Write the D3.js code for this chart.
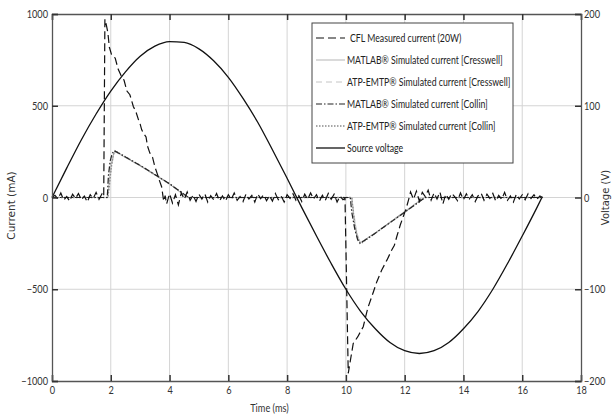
<!DOCTYPE html>
<html>
<head>
<meta charset="utf-8">
<script src="https://cdn.jsdelivr.net/npm/d3@7"></script>
<style>
  body { margin: 0; background: #fff; }
  svg { display: block; }
  .tick text { font-family: Lato, sans-serif; font-size: 11.5px; fill: #333; }
</style>
</head>
<body>
<div id="chart"></div>
<script>
// time axis ticks (ms) and current / voltage ticks
const timeTicks = [0, 2, 4, 6, 8, 10, 12, 14, 16, 18];
const currentTicks = [-1000, -500, 0, 500, 1000];
const voltageTicks = [-200, -100, 0, 100, 200];

// source voltage (V)
const voltT = [0, 0.5, 1, 1.5, 2, 2.5, 3, 3.5, 4, 4.5, 5, 5.5, 6, 6.5, 7, 7.5, 8, 8.5, 9, 9.5, 10, 10.5, 11, 11.5, 12, 12.5, 13, 13.5, 14, 14.5, 15, 15.5, 16, 16.5, 16.67];
const voltV = [0, 32, 63, 91, 116, 137, 154, 165, 170, 169, 162, 149, 131, 108, 82, 52, 21, -11, -42, -72, -100, -124, -143, -158, -167, -170, -167, -158, -143, -124, -100, -72, -42, -11, 0];

// CFL measured current (mA)
const measT = [0, 0.1, 0.2, 0.3, 0.4, 0.5, 0.6, 0.7, 0.8, 0.9, 1.0, 1.1, 1.2, 1.3, 1.4, 1.5, 1.6, 1.7, 1.76,
  1.8, 1.85, 1.9, 1.95, 2.03, 2.15, 2.25, 2.37, 2.45, 2.55, 2.65, 2.77, 2.85, 2.95, 3.0, 3.05, 3.11, 3.2, 3.25, 3.33, 3.42, 3.5, 3.58, 3.65, 3.73,
  3.8, 3.85, 3.9, 4.0, 4.1, 4.2, 4.3, 4.4, 4.5, 4.6, 4.7, 4.8, 4.9, 5.0, 5.1, 5.2, 5.3, 5.4, 5.5, 5.6, 5.7, 5.8, 5.9, 6.0,
  6.1, 6.2, 6.3, 6.4, 6.5, 6.6, 6.7, 6.8, 6.9, 7.0, 7.1, 7.2, 7.3, 7.4, 7.5, 7.6, 7.7, 7.8, 7.9, 8.0, 8.1, 8.2, 8.3, 8.4,
  8.5, 8.6, 8.7, 8.8, 8.9, 9.0, 9.1, 9.2, 9.3, 9.4, 9.5, 9.6, 9.7, 9.8, 9.9, 9.97,
  10.08, 10.25, 10.4, 10.59, 10.75, 10.88, 11.05, 11.22, 11.4, 11.56, 11.65, 11.73, 11.85, 11.95, 12.05, 12.13,
  12.2, 12.3, 12.4, 12.5, 12.6, 12.7, 12.8, 12.9, 13.0, 13.1, 13.2, 13.3, 13.4, 13.5, 13.6, 13.7, 13.8, 13.9, 14.0,
  14.1, 14.2, 14.3, 14.4, 14.5, 14.6, 14.7, 14.8, 14.9, 15.0, 15.1, 15.2, 15.3, 15.4, 15.5, 15.6, 15.7, 15.8, 15.9, 16.0,
  16.1, 16.2, 16.3, 16.4, 16.5, 16.6, 16.7];
const measI = [0, 12, -8, 25, -15, 5, -20, 18, -5, 22, -12, 8, -25, 15, -6, 28, -10, 20, 5,
  971, 940, 900, 820, 776, 760, 700, 658, 640, 580, 560, 495, 470, 420, 400, 370, 351, 330, 280, 242, 220, 168, 130, 95, 59,
  -20, 10, -35, 20, -30, 15, -40, 25, -10, 30, -15, 12, -22, 18, -8, 20, -25, 10, -12, 22, -18, 8, -20, 15,
  -10, 25, -15, 5, -22, 18, -8, 12, -25, 20, -6, 15, -18, 10, -20, 22, -12, 8, -25, 15, -5, 20, -15, 10,
  -22, 18, -10, 25, -8, 15, -20, 12, -15, 22, -10, 18, -25, 8, -12, -5,
  -958, -795, -760, -704, -600, -541, -460, -395, -340, -286, -260, -214, -150, -105, -60, -14,
  30, -10, 35, -20, 28, 5, 40, -15, 25, -8, 30, -35, 18, -10, 22, 5, -18, 25, -12,
  20, -8, 15, -22, 10, 25, -15, 18, -5, 22, -20, 12, -10, 28, -15, 8, -25, 18, -8, 15,
  -12, 20, -5, 15, -10, 8, 0];

// MATLAB simulated current [Collin] (mA)
const colMT = [0, 1.88, 1.92, 1.98, 2.05, 2.12, 3.0, 4.0, 4.65, 10.15, 10.2, 10.3, 10.4, 10.48, 11.0, 12.0, 12.7, 16.7];
const colMI = [0, 0, 120, 200, 240, 255, 175, 75, 0, 0, -80, -170, -230, -250, -195, -80, 0, 0];

// ATP-EMTP simulated current [Collin] (mA)
const colAT = [0, 1.9, 1.95, 2.0, 2.05, 2.1, 2.15, 3.0, 4.0, 4.65, 10.2, 10.25, 10.3, 10.38, 10.45, 10.52, 11.0, 12.0, 12.7, 16.7];
const colAI = [0, 0, 60, 140, 200, 240, 255, 175, 75, 0, 0, -70, -150, -210, -240, -250, -195, -80, 0, 0];

// MATLAB simulated current [Cresswell] (mA)
const creMT = [0, 1.9, 1.96, 2.02, 2.1, 2.15, 3.0, 4.0, 4.6, 10.2, 10.26, 10.34, 10.42, 10.5, 11.0, 12.0, 12.65, 16.7];
const creMI = [0, 0, 110, 190, 235, 250, 172, 72, 0, 0, -90, -175, -225, -245, -192, -76, 0, 0];

// ATP-EMTP simulated current [Cresswell] (mA)
const creAT = [0, 1.9, 1.97, 2.04, 2.1, 2.16, 3.0, 4.0, 4.6, 10.2, 10.27, 10.35, 10.43, 10.5, 11.0, 12.0, 12.65, 16.7];
const creAI = [0, 0, 100, 180, 230, 248, 172, 72, 0, 0, -85, -170, -222, -245, -192, -76, 0, 0];

const legendLabels = [
  "CFL Measured current (20W)",
  "MATLAB\u00AE Simulated current [Cresswell]",
  "ATP-EMTP\u00AE Simulated current [Cresswell]",
  "MATLAB\u00AE Simulated current [Collin]",
  "ATP-EMTP\u00AE Simulated current [Collin]",
  "Source voltage"
];

const width = 613, height = 418;
const margin = { top: 14, right: 32, bottom: 37, left: 52 };
const w = width - margin.left - margin.right;
const h = height - margin.top - margin.bottom;
const narrow = 0.8; // the original uses a condensed face

const svg = d3.select("#chart").append("svg")
  .attr("width", width)
  .attr("height", height);

const g = svg.append("g").attr("transform", `translate(${margin.left},${margin.top})`);

const x = d3.scaleLinear().domain([0, 18]).range([0, w]);
const yI = d3.scaleLinear().domain([-1000, 1000]).range([h, 0]);
const yV = d3.scaleLinear().domain([-200, 200]).range([h, 0]);

// squeeze text horizontally around its anchor point
function squeeze(sel, k) {
  sel.each(function () {
    const t = d3.select(this);
    const tx = +t.attr("x") || 0, ty = +t.attr("y") || 0;
    t.attr("x", 0).attr("y", 0).attr("transform", `translate(${tx},${ty}) scale(${k},1)`);
  });
}

// grid
g.append("g").selectAll("line").data(timeTicks.slice(1, -1)).join("line")
  .attr("x1", d => x(d)).attr("x2", d => x(d))
  .attr("y1", 0).attr("y2", h)
  .attr("stroke", "#d4d4d4").attr("stroke-width", 1);
g.append("g").selectAll("line").data(currentTicks.slice(1, -1)).join("line")
  .attr("x1", 0).attr("x2", w)
  .attr("y1", d => yI(d)).attr("y2", d => yI(d))
  .attr("stroke", "#d4d4d4").attr("stroke-width", 1);

// series
const styles = [
  { t: creMT, v: creMI, color: "#b5b5b5", width: 1, dash: null },
  { t: creAT, v: creAI, color: "#c4c4c4", width: 1, dash: "6,4" },
  { t: colAT, v: colAI, color: "#8a8a8a", width: 1.3, dash: "1.5,1.5" },
  { t: colMT, v: colMI, color: "#222", width: 1.2, dash: "6,2,1.5,2" },
  { t: measT, v: measI, color: "#111", width: 1.2, dash: "8,4" }
];

const line = d3.line().x(d => x(d[0])).y(d => yI(d[1]));
styles.forEach(s => {
  g.append("path")
    .datum(s.t.map((t, i) => [t, s.v[i]]))
    .attr("fill", "none")
    .attr("stroke", s.color)
    .attr("stroke-width", s.width)
    .attr("stroke-dasharray", s.dash)
    .attr("d", line);
});

const vLine = d3.line().curve(d3.curveMonotoneX).x(d => x(d[0])).y(d => yV(d[1]));
g.append("path")
  .datum(voltT.map((t, i) => [t, voltV[i]]))
  .attr("fill", "none")
  .attr("stroke", "#111")
  .attr("stroke-width", 1.3)
  .attr("d", vLine);

// axes
const axisColor = "#555";
const axBottom = g.append("g").attr("transform", `translate(0,${h})`)
  .call(d3.axisBottom(x).tickValues(timeTicks).tickSize(-6).tickPadding(5).tickFormat(d3.format("d")));
const axTop = g.append("g")
  .call(d3.axisTop(x).tickValues(timeTicks).tickSize(-6).tickFormat(""));
const axLeft = g.append("g")
  .call(d3.axisLeft(yI).tickValues(currentTicks).tickSize(-6).tickPadding(4).tickFormat(d3.format("d")));
const axRight = g.append("g").attr("transform", `translate(${w},0)`)
  .call(d3.axisRight(yV).tickValues(voltageTicks).tickSize(-6).tickPadding(3).tickFormat(d3.format("d")));

[axBottom, axTop, axLeft, axRight].forEach(a => {
  a.select(".domain").attr("stroke", axisColor).attr("stroke-width", 1.3);
  a.selectAll(".tick line").attr("stroke", "#333").attr("stroke-width", 1.5);
  squeeze(a.selectAll(".tick text"), narrow);
});

// axis titles
svg.append("text")
  .attr("x", margin.left + x(7.4)).attr("y", 412)
  .attr("text-anchor", "middle")
  .style("font-family", "Lato, sans-serif")
  .style("font-size", "11.5px").attr("fill", "#333")
  .text("Time (ms)")
  .call(squeeze, narrow);

svg.append("text")
  .attr("transform", `translate(15,${margin.top + h / 2 + 8}) rotate(-90)`)
  .attr("text-anchor", "middle")
  .style("font-family", "'DejaVu Sans', sans-serif")
  .style("font-size", "10.5px").attr("fill", "#333")
  .text("Current (mA)");

svg.append("text")
  .attr("transform", `translate(609,${margin.top + h / 2}) rotate(-90)`)
  .attr("text-anchor", "middle")
  .style("font-family", "'DejaVu Sans', sans-serif")
  .style("font-size", "10px").attr("fill", "#333")
  .text("Voltage (V)");

// legend
const lg = svg.append("g").attr("transform", "translate(312,23)");
lg.append("rect")
  .attr("width", 201).attr("height", 140)
  .attr("fill", "#fff").attr("stroke", "#444").attr("stroke-width", 1);

const legendStyles = [styles[4], styles[0], styles[1], styles[3], styles[2],
  { color: "#111", width: 1.3, dash: null }];

legendLabels.forEach((lab, i) => {
  const yy = 15 + i * 22;
  const s = legendStyles[i];
  lg.append("line")
    .attr("x1", 4).attr("x2", 33).attr("y1", yy).attr("y2", yy)
    .attr("stroke", s.color).attr("stroke-width", s.width)
    .attr("stroke-dasharray", s.dash);
  lg.append("text")
    .attr("x", i === 0 ? 38 : 35).attr("y", yy + 4)
    .style("font-family", "Lato, sans-serif")
    .style("font-size", "11.5px").attr("fill", "#222")
    .text(lab)
    .call(squeeze, 0.76);
});
</script>
</body>
</html>
